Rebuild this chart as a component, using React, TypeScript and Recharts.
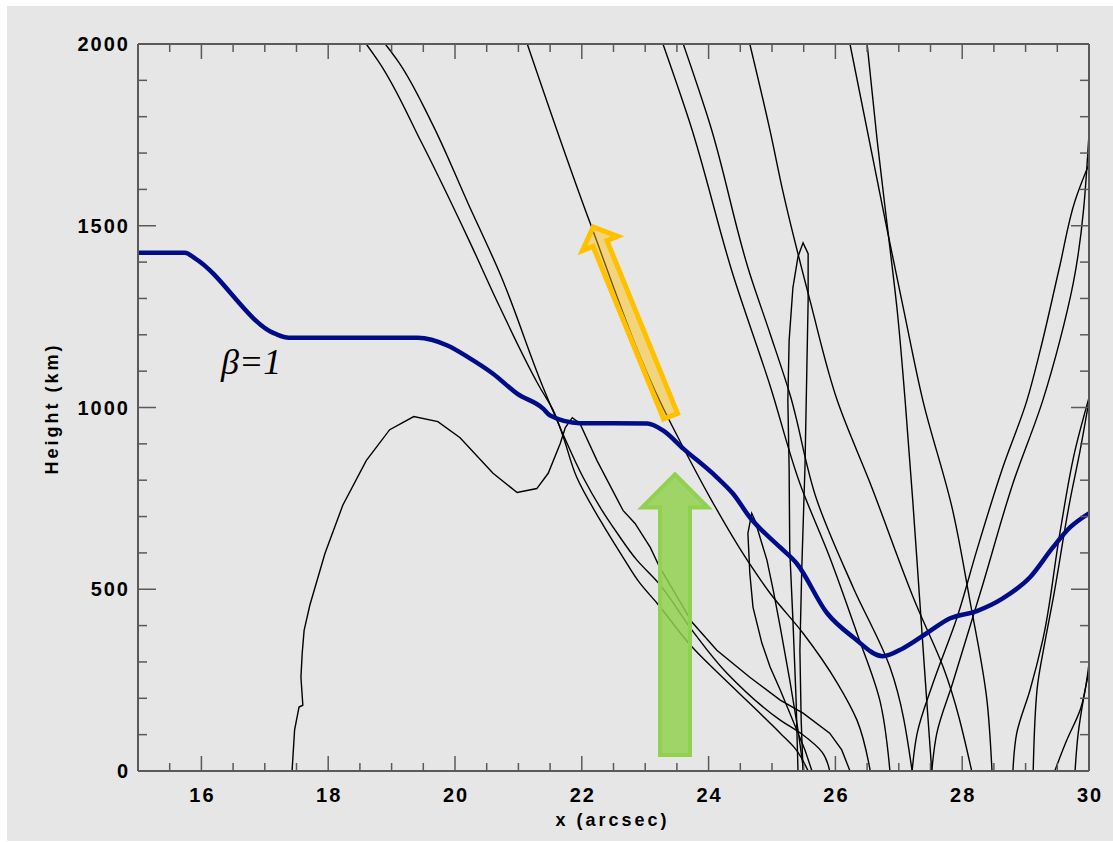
import React from 'react';
import { LineChart, Line, XAxis, YAxis, ReferenceLine, ReferenceDot, Label } from 'recharts';

type Pair = [number, number];

// x (arcsec), height (km)
const betaOne: Pair[] = [
  [15.0, 1426], [15.74, 1426], [15.91, 1409], [17.16, 1203], [17.38, 1192], [19.41, 1192],
  [19.89, 1170], [20.21, 1138], [20.6, 1093], [20.98, 1038], [21.39, 997], [21.5, 978],
  [21.97, 957], [23.03, 956], [23.28, 937], [23.6, 887], [24.13, 808], [24.38, 764],
  [24.65, 698], [25.13, 615], [25.39, 571], [25.87, 434], [26.28, 368], [26.75, 316],
  [27.07, 338], [27.44, 379], [27.81, 420], [28.23, 440], [28.64, 475], [29.07, 533],
  [29.43, 615], [29.7, 670], [30.0, 709],
];

const loopA: Pair[] = [
  [17.43, 0], [17.47, 113], [17.54, 176], [17.6, 181], [17.57, 258], [17.59, 324], [17.62, 387],
  [17.71, 456], [17.95, 599], [18.23, 731], [18.6, 854], [18.97, 939], [19.35, 975], [19.73, 961],
  [20.08, 917], [20.6, 819], [20.98, 766], [21.29, 777], [21.47, 819], [21.66, 901], [21.74, 945],
  [21.85, 972], [21.97, 956], [22.24, 854], [22.65, 717], [22.84, 681], [23.08, 615], [23.23, 560],
  [23.74, 409], [24.13, 332], [24.65, 258], [25.13, 195], [25.49, 159], [25.91, 104], [26.1, 58],
  [26.23, 0],
];

const lineB: Pair[] = [
  [18.9, 2000], [19.1, 1953], [19.62, 1788], [20.21, 1560], [20.71, 1368], [21.39, 1055],
  [21.7, 928], [22.02, 808], [22.29, 725], [22.56, 654], [22.87, 580], [23.2, 519], [23.74, 387],
  [24.29, 269], [25.13, 140], [25.49, 99], [25.79, 52], [25.91, 0],
];

const lineC: Pair[] = [
  [18.6, 2000], [18.79, 1953], [19.46, 1733], [20.21, 1464], [20.71, 1275], [21.34, 1055],
  [21.55, 992], [21.7, 923], [21.92, 808], [22.29, 690], [22.65, 588], [22.92, 516], [23.19, 461],
  [23.74, 341], [24.38, 231], [25.13, 104], [25.36, 63], [25.57, 0],
];

const lineD: Pair[] = [
  [21.14, 2000], [22.13, 1508], [23.28, 1000], [23.6, 890], [24.02, 753], [24.61, 580],
  [24.97, 489], [25.49, 379], [26.03, 242], [26.34, 140], [26.55, 0],
];

const spikeE: Pair[] = [
  [25.41, 0], [25.38, 195], [25.33, 415], [25.28, 607], [25.27, 835], [25.25, 1019], [25.27, 1184],
  [25.33, 1330], [25.41, 1415], [25.49, 1453], [25.57, 1423], [25.57, 1294], [25.55, 1110],
  [25.52, 835], [25.47, 560], [25.44, 332], [25.46, 140], [25.49, 0],
];

const spikeF: Pair[] = [
  [25.63, 0], [25.52, 58], [25.36, 126], [25.13, 223], [24.97, 286], [24.84, 352], [24.7, 451],
  [24.65, 544], [24.62, 654], [24.68, 709], [24.73, 690], [24.92, 580], [25.02, 497], [25.13, 396],
  [25.28, 250], [25.41, 113], [25.5, 0],
];

const lineG: Pair[] = [
  [23.28, 2000], [23.71, 1780], [24.38, 1368], [24.97, 1060], [25.44, 791], [25.91, 588],
  [26.34, 379], [26.7, 195], [26.86, 0],
];

const lineH: Pair[] = [
  [23.6, 2000], [24.02, 1780], [24.65, 1368], [24.97, 1203], [25.28, 1038], [25.71, 744],
  [26.28, 505], [26.86, 286], [27.21, 0],
];

const lineP: Pair[] = [
  [24.65, 2000], [24.97, 1761], [25.17, 1596], [25.6, 1294], [26.03, 1019], [26.55, 791],
  [27.29, 451], [27.7, 286], [28.15, 0],
];

const lineQ: Pair[] = [
  [26.23, 2000], [26.81, 1494], [27.07, 1275], [27.38, 1019], [27.85, 717], [28.12, 470],
  [28.39, 195], [28.47, 0],
];

const lineR: Pair[] = [
  [26.5, 2000], [26.66, 1733], [26.86, 1439], [26.97, 1275], [27.1, 1019], [27.22, 744],
  [27.33, 470], [27.44, 195], [27.52, 0],
];

const lineI: Pair[] = [
  [27.21, 0], [27.29, 104], [27.54, 242], [27.92, 423], [28.23, 607], [28.64, 835], [29.02, 1019],
  [29.23, 1157], [29.54, 1390], [29.78, 1569], [30.0, 1670],
];

const lineJ: Pair[] = [
  [27.52, 0], [27.6, 104], [27.85, 242], [28.33, 516], [28.8, 791], [29.27, 1019], [29.54, 1184],
  [29.75, 1341], [30.0, 1753],
];

const lineK: Pair[] = [
  [28.8, 0], [28.86, 104], [29.07, 223], [29.27, 360], [29.54, 654], [29.78, 882], [30.0, 1027],
];

const lineL: Pair[] = [
  [29.12, 0], [29.18, 223], [29.31, 360], [29.43, 470], [29.7, 744], [29.86, 882], [30.0, 1019],
];

const lineM: Pair[] = [[29.46, 0], [29.65, 85], [29.86, 168], [30.0, 297]];
const lineN: Pair[] = [[29.78, 0], [29.83, 104], [29.91, 195], [30.0, 277]];

// field lines that rise or fall steadily get a smooth curve, the loop and spikes stay polylines
const smoothLines: Pair[][] = [
  lineB, lineC, lineD, lineG, lineH, lineP, lineQ, lineR, lineI, lineJ, lineK, lineL, lineM, lineN,
];
const jaggedLines: Pair[][] = [loopA, spikeE, spikeF];

// annotation anchors: [base, tip]
const greenArrow: Pair[] = [[23.47, 44], [23.47, 816]];
const orangeArrow: Pair[] = [[23.4, 976], [22.18, 1497]];
const betaLabel: Pair = [16.31, 1093];

const X_TICKS = [
  15.5, 16, 16.5, 17, 17.5, 18, 18.5, 19, 19.5, 20, 20.5, 21, 21.5, 22, 22.5, 23, 23.5, 24,
  24.5, 25, 25.5, 26, 26.5, 27, 27.5, 28, 28.5, 29, 29.5, 30,
];
const X_LABELS = [16, 18, 20, 22, 24, 26, 28, 30];
const Y_TICKS = [
  0, 100, 200, 300, 400, 500, 600, 700, 800, 900, 1000, 1100, 1200, 1300, 1400, 1500, 1600,
  1700, 1800, 1900, 2000,
];
const Y_LABELS = [0, 500, 1000, 1500, 2000];

const W = 1113;
const H = 842;
const FRAME = '#5a5a5a';
const SANS = '"Liberation Sans", Arial, Helvetica, sans-serif';
const tickText = { fontFamily: SANS, fontSize: 20, fontWeight: 700, fill: '#000', letterSpacing: 2 };
const titleText = { fontFamily: SANS, fontSize: 18, fontWeight: 700, fill: '#000', letterSpacing: 3 };

const toPoints = (arr: Pair[]) => arr.map(([x, y]) => ({ x, y }));

const bottomTick = (p: any) => {
  const v = p.payload.value;
  const major = X_LABELS.includes(v);
  return (
    <g>
      {v < 30 && (
        <line x1={p.x} y1={p.y} x2={p.x} y2={p.y - (major ? 15 : 8)} stroke={FRAME} strokeWidth={1.5} />
      )}
      {major && (
        <text x={p.x + 1} y={p.y + 31} textAnchor="middle" {...tickText}>
          {v}
        </text>
      )}
    </g>
  );
};

const topTick = (p: any) => {
  const v = p.payload.value;
  if (v >= 30) return <g />;
  const major = X_LABELS.includes(v);
  return <line x1={p.x} y1={p.y} x2={p.x} y2={p.y + (major ? 15 : 8)} stroke={FRAME} strokeWidth={1.5} />;
};

const leftTick = (p: any) => {
  const v = p.payload.value;
  const major = Y_LABELS.includes(v);
  return (
    <g>
      {v > 0 && v < 2000 && (
        <line x1={p.x} y1={p.y} x2={p.x + (major ? 18 : 9)} y2={p.y} stroke={FRAME} strokeWidth={1.5} />
      )}
      {major && (
        <text x={p.x - 8} y={p.y + 7} textAnchor="end" {...tickText}>
          {v}
        </text>
      )}
    </g>
  );
};

const rightTick = (p: any) => {
  const v = p.payload.value;
  if (v <= 0 || v >= 2000) return <g />;
  const major = Y_LABELS.includes(v);
  return <line x1={p.x} y1={p.y} x2={p.x - (major ? 18 : 9)} y2={p.y} stroke={FRAME} strokeWidth={1.5} />;
};

// block arrow drawn along a reference segment (x1,y1 = base, x2,y2 = tip)
const arrowShape =
  (shaft: number, head: number, headLen: number, style: React.SVGProps<SVGPolygonElement>) =>
  (p: any) => {
    const { x1, y1, x2, y2 } = p;
    const dx = x2 - x1;
    const dy = y2 - y1;
    const len = Math.hypot(dx, dy) || 1;
    const ux = dx / len;
    const uy = dy / len;
    const nx = -uy;
    const ny = ux;
    const bx = x2 - ux * headLen;
    const by = y2 - uy * headLen;
    const pts: Pair[] = [
      [x1 + (nx * shaft) / 2, y1 + (ny * shaft) / 2],
      [bx + (nx * shaft) / 2, by + (ny * shaft) / 2],
      [bx + (nx * head) / 2, by + (ny * head) / 2],
      [x2, y2],
      [bx - (nx * head) / 2, by - (ny * head) / 2],
      [bx - (nx * shaft) / 2, by - (ny * shaft) / 2],
      [x1 - (nx * shaft) / 2, y1 - (ny * shaft) / 2],
    ];
    return <polygon points={pts.map((q) => q.join(',')).join(' ')} {...style} />;
  };

const heightTitle = (p: any) => {
  const vb = p.viewBox || { y: 44, height: 727 };
  const cy = vb.y + vb.height / 2 + 1;
  return (
    <text x={52} y={cy} transform={`rotate(-90 52 ${cy})`} textAnchor="middle" dominantBaseline="central" {...titleText}>
      Height (km)
    </text>
  );
};

const xTitle = (p: any) => {
  const vb = p.viewBox || { x: 138, width: 951 };
  return (
    <text x={vb.x + vb.width / 2 - 1} y={826} textAnchor="middle" {...titleText}>
      x (arcsec)
    </text>
  );
};

const axisCommon = {
  type: 'number' as const,
  allowDataOverflow: true,
  interval: 0 as const,
  tickSize: 0,
  tickMargin: 0,
  tickLine: false,
  axisLine: { stroke: FRAME, strokeWidth: 2 },
};

export default function App() {
  return (
    <div style={{ position: 'absolute', left: 0, top: 0, width: W, height: H, background: '#ffffff' }}>
      <div style={{ position: 'absolute', left: 7, top: 6, width: W - 7, height: H - 7, background: '#e6e6e6' }} />
      <div style={{ position: 'absolute', left: 0, top: 0 }}>
        <LineChart width={W} height={H} margin={{ top: 0, right: 0, bottom: 0, left: 0 }}>
          <XAxis {...axisCommon} dataKey="x" domain={[15, 30]} ticks={X_TICKS} tick={bottomTick} height={71}>
            <Label content={xTitle} />
          </XAxis>
          <XAxis
            {...axisCommon}
            xAxisId="top"
            orientation="top"
            dataKey="x"
            domain={[15, 30]}
            ticks={X_TICKS}
            tick={topTick}
            height={44}
          />
          <YAxis {...axisCommon} domain={[0, 2000]} ticks={Y_TICKS} tick={leftTick} width={138}>
            <Label content={heightTitle} />
          </YAxis>
          <YAxis
            {...axisCommon}
            yAxisId="right"
            orientation="right"
            domain={[0, 2000]}
            ticks={Y_TICKS}
            tick={rightTick}
            width={24}
          />

          {jaggedLines.map((line, i) => (
            <Line
              key={`j${i}`}
              data={toPoints(line)}
              dataKey="y"
              type="linear"
              stroke="#000000"
              strokeWidth={1.4}
              dot={false}
              activeDot={false}
              isAnimationActive={false}
            />
          ))}
          {smoothLines.map((line, i) => (
            <Line
              key={`s${i}`}
              data={toPoints(line)}
              dataKey="y"
              type="monotoneY"
              stroke="#000000"
              strokeWidth={1.4}
              dot={false}
              activeDot={false}
              isAnimationActive={false}
            />
          ))}

          <Line
            data={toPoints(betaOne)}
            dataKey="y"
            type="monotone"
            stroke="#000c88"
            strokeWidth={4.5}
            dot={false}
            activeDot={false}
            isAnimationActive={false}
          />

          <ReferenceDot
            x={betaLabel[0]}
            y={betaLabel[1]}
            r={0}
            shape={(p: any) => (
              <text
                x={p.cx}
                y={p.cy}
                fontFamily='"Liberation Serif", "Times New Roman", serif'
                fontStyle="italic"
                fontSize={36}
                fill="#000"
              >
                β=1
              </text>
            )}
          />

          <ReferenceLine
            segment={orangeArrow.map(([x, y]) => ({ x, y }))}
            shape={arrowShape(15, 38, 18, {
              fill: '#ffc000',
              fillOpacity: 0.45,
              stroke: '#ffc000',
              strokeWidth: 5,
              strokeLinejoin: 'miter',
            })}
          />
          <ReferenceLine
            segment={greenArrow.map(([x, y]) => ({ x, y }))}
            shape={arrowShape(30, 66, 33, {
              fill: '#92d050',
              fillOpacity: 0.85,
              stroke: '#92d050',
              strokeWidth: 4,
            })}
          />
        </LineChart>
      </div>
    </div>
  );
}
